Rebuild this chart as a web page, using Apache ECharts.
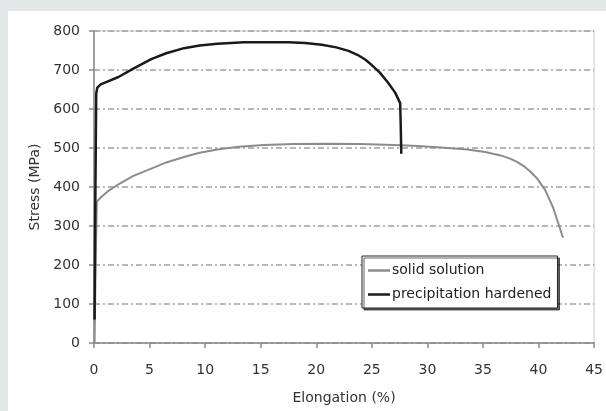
<!DOCTYPE html>
<html>
<head>
<meta charset="utf-8">
<script src="https://cdn.jsdelivr.net/npm/echarts@6/dist/echarts.min.js"></script>
<style>
  html, body { margin: 0; padding: 0; background: #e3e7e7; }
  #panel { position: absolute; left: 8px; top: 11px; width: 598px; height: 400px; background: #ffffff; }
  #chart { position: absolute; left: 0; top: 0; width: 606px; height: 411px; }
</style>
</head>
<body>
<div id="panel"></div>
<div id="chart"></div>
<script>
// Elongation (%) vs Stress (MPa)
const solidSolution = [
  [0.05, 0], [0.15, 200], [0.25, 362], [0.6, 373], [1.2, 388], [2.2, 407], [3.5, 428],
  [5.15, 447], [6.5, 463], [8.1, 477], [9.5, 488], [11.1, 496], [13, 503], [15.3, 508],
  [18, 510], [21, 511], [24, 510], [27.6, 507], [29.1, 505], [30.9, 502], [33.6, 496],
  [35.2, 490], [36.6, 481], [37.5, 472], [38.1, 464], [38.7, 453], [39.2, 441], [39.9, 421],
  [40.6, 392], [41.3, 348], [41.8, 305], [42.2, 270]
];
const precipitationHardened = [
  [0.05, 60], [0.1, 300], [0.2, 640], [0.3, 655], [0.6, 663], [1.2, 670], [2.2, 682],
  [3.5, 703], [5.15, 728], [6.5, 743], [8.1, 756], [9.5, 763], [11.1, 767], [13.5, 771],
  [15.5, 771], [17.5, 771], [19, 769], [20.5, 765], [21.8, 758], [22.9, 749], [23.7, 739],
  [24.4, 727], [24.9, 715], [25.7, 694], [26.45, 668], [27.1, 642], [27.55, 615],
  [27.6, 560], [27.65, 485]
];
const seriesNames = ['solid solution', 'precipitation hardened'];
const xTicks = { min: 0, max: 45, interval: 5 };
const yTicks = { min: 0, max: 800, interval: 100 };

const FONT = 'DejaVu Sans';
const chart = echarts.init(document.getElementById('chart'), null, { renderer: 'canvas' });
chart.setOption({
  backgroundColor: 'transparent',
  animation: false,
  textStyle: { fontFamily: FONT },
  grid: {
    left: 94, top: 31, right: 8, bottom: 68,
    show: true, borderColor: '#c8c8c8', borderWidth: 1, backgroundColor: 'transparent'
  },
  legend: {
    orient: 'vertical',
    left: 362, top: 256,
    padding: [7, 6, 6, 6],
    itemGap: 9,
    itemWidth: 22, itemHeight: 2.5,
    icon: 'rect',
    backgroundColor: '#ffffff',
    borderColor: '#222222', borderWidth: 1, borderRadius: 0,
    shadowColor: 'rgba(0,0,0,0.6)', shadowBlur: 0, shadowOffsetX: 2, shadowOffsetY: 2,
    textStyle: { fontFamily: FONT, fontSize: 14, lineHeight: 15, color: '#222222', padding: [0, 0, 0, -3] },
    data: [
      { name: seriesNames[0], itemStyle: { color: '#8c8c8c' } },
      { name: seriesNames[1], itemStyle: { color: '#1a1a1a' } }
    ]
  },
  xAxis: {
    type: 'value',
    min: xTicks.min, max: xTicks.max, interval: xTicks.interval,
    name: 'Elongation (%)', nameLocation: 'middle', nameGap: 48,
    nameTextStyle: { fontFamily: FONT, fontSize: 14, color: '#333333' },
    axisLine: { show: true, onZero: false, lineStyle: { color: '#8a8a8a', width: 1.5 } },
    axisTick: { show: true, inside: false, length: 5, lineStyle: { color: '#8a8a8a', width: 1.5 } },
    axisLabel: { margin: 20, fontFamily: FONT, fontSize: 14, color: '#333333' },
    splitLine: { show: false }
  },
  yAxis: {
    type: 'value',
    min: yTicks.min, max: yTicks.max, interval: yTicks.interval,
    name: 'Stress (MPa)', nameLocation: 'middle', nameGap: 48, nameRotate: 90,
    nameTextStyle: { fontFamily: FONT, fontSize: 14, color: '#333333' },
    axisLine: { show: true, onZero: false, lineStyle: { color: '#8a8a8a', width: 1.5 } },
    axisTick: { show: true, inside: false, length: 5, lineStyle: { color: '#8a8a8a', width: 1.5 } },
    axisLabel: { margin: 14, fontFamily: FONT, fontSize: 14, color: '#333333' },
    splitLine: { show: true, lineStyle: { color: '#a0a0a0', width: 1.5, type: [6, 3, 2, 3] } }
  },
  series: [
    {
      name: seriesNames[0], type: 'line', data: solidSolution,
      symbol: 'none', smooth: false,
      lineStyle: { color: '#8c8c8c', width: 2, join: 'round' }, itemStyle: { color: '#8c8c8c' }, z: 3
    },
    {
      name: seriesNames[1], type: 'line', data: precipitationHardened,
      symbol: 'none', smooth: false,
      lineStyle: { color: '#1a1a1a', width: 2.5, join: 'round' }, itemStyle: { color: '#1a1a1a' }, z: 4
    }
  ]
});
</script>
</body>
</html>
